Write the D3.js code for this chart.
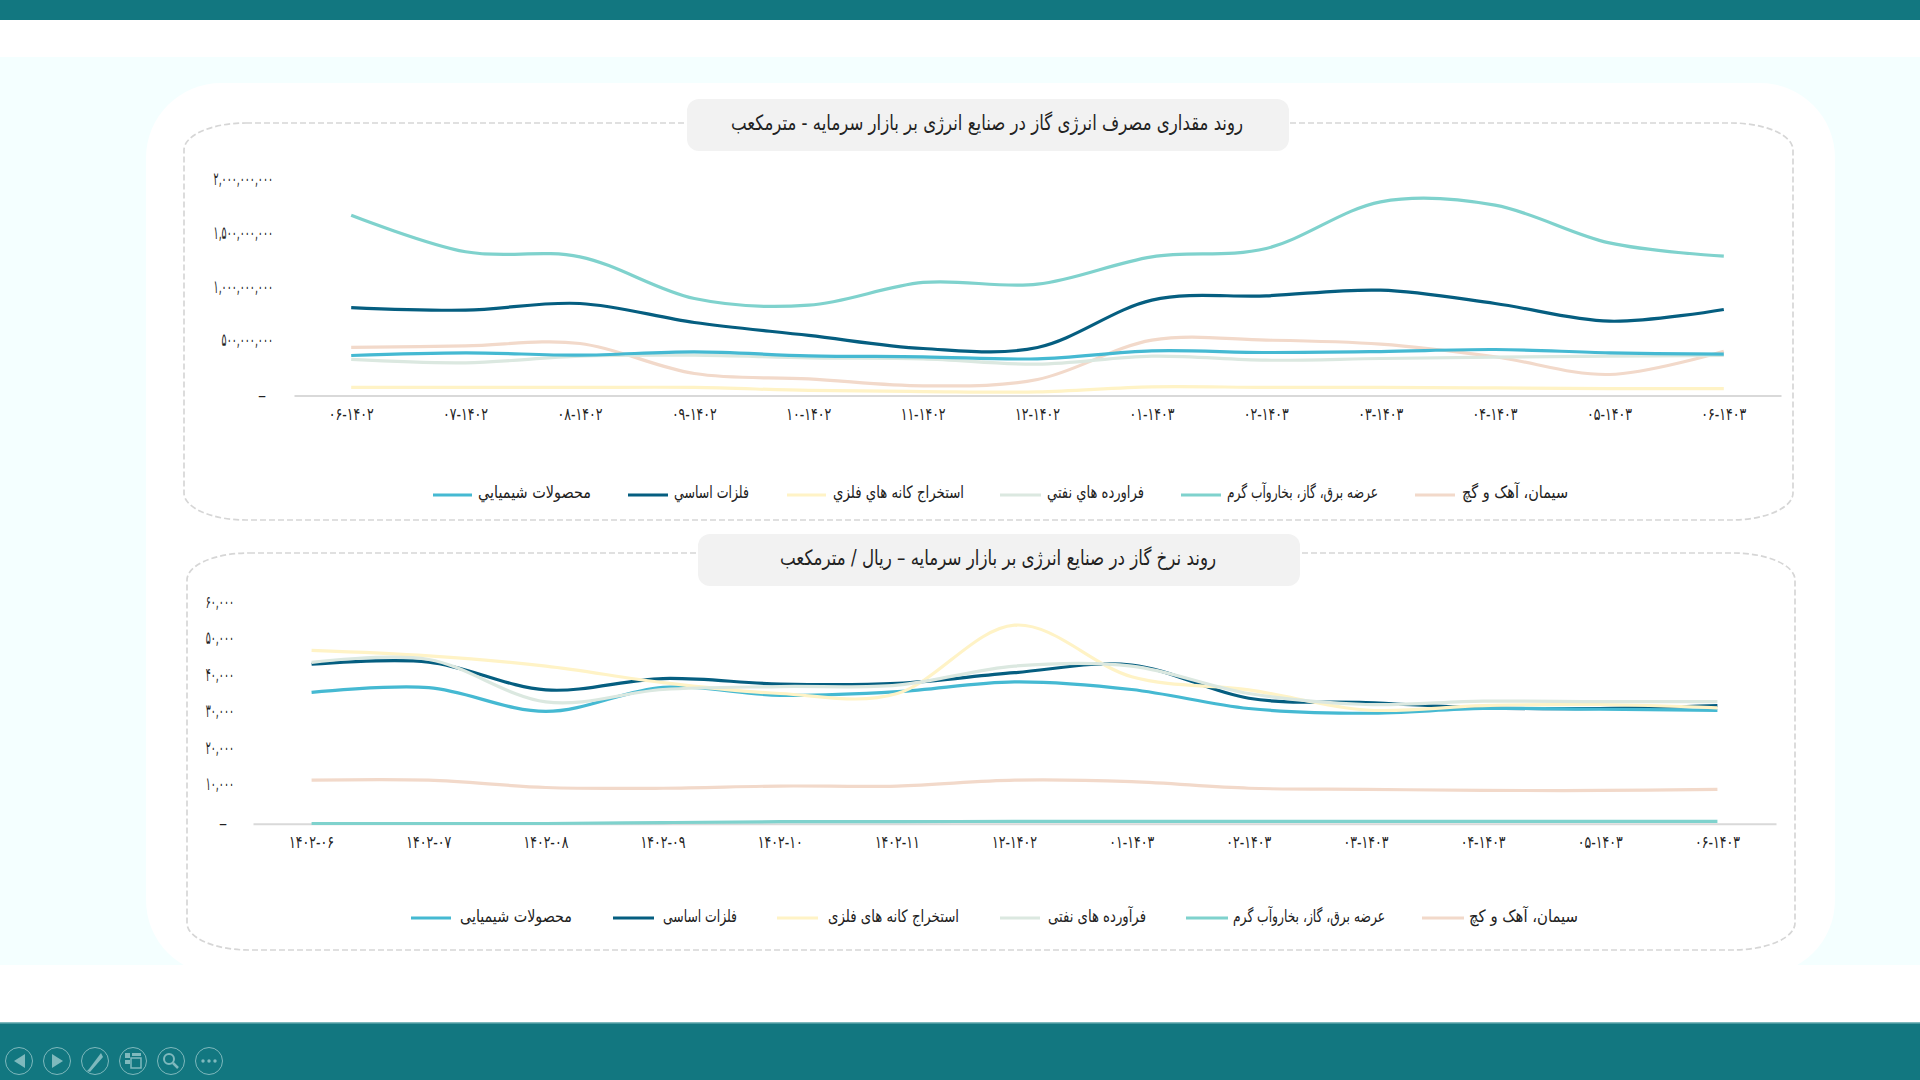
<!DOCTYPE html>
<html lang="fa">
<head>
<meta charset="utf-8">
<title>روند مصرف و نرخ گاز</title>
<script src="https://cdn.jsdelivr.net/npm/d3@7"></script>
<style>
html, body { margin: 0; padding: 0; background: #fff; overflow: hidden; }
svg { display: block; }
text { font-family: "DejaVu Sans Condensed", "DejaVu Sans", sans-serif; fill: #222; }
</style>
</head>
<body>
<svg id="chart" width="1920" height="1080"></svg>
<script>
// شماره ماه ها در دو نمودار کمی فرق دارد، مثل تصویر اصلی
var months1 = ["۰۶-۱۴۰۲", "۰۷-۱۴۰۲", "۰۸-۱۴۰۲", "۰۹-۱۴۰۲", "۱۰-۱۴۰۲", "۱۱-۱۴۰۲", "۱۲-۱۴۰۲", "۰۱-۱۴۰۳", "۰۲-۱۴۰۳", "۰۳-۱۴۰۳", "۰۴-۱۴۰۳", "۰۵-۱۴۰۳", "۰۶-۱۴۰۳"];
var months2 = ["۱۴۰۲-۰۶", "۱۴۰۲-۰۷", "۱۴۰۲-۰۸", "۱۴۰۲-۰۹", "۱۴۰۲-۱۰", "۱۴۰۲-۱۱", "۱۲-۱۴۰۲", "۰۱-۱۴۰۳", "۰۲-۱۴۰۳", "۰۳-۱۴۰۳", "۰۴-۱۴۰۳", "۰۵-۱۴۰۳", "۰۶-۱۴۰۳"];

// million cubic meters
var cement1 = [448, 463, 485, 205, 155, 90, 149, 516, 516, 479, 361, 196, 413];
var power1 = [1681, 1340, 1293, 904, 842, 1054, 1038, 1293, 1371, 1806, 1775, 1423, 1299];
var oil1 = [336, 305, 367, 376, 351, 342, 292, 367, 329, 345, 357, 367, 373];
var mining1 = [75, 75, 75, 75, 47, 37, 34, 81, 75, 75, 71, 65, 65];
var metals1 = [820, 796, 858, 681, 560, 438, 448, 889, 929, 982, 858, 693, 802];
var chem1 = [373, 398, 376, 407, 370, 361, 342, 416, 401, 410, 429, 398, 385];

// rial per cubic meter
var cement2 = [11900, 11900, 9900, 9700, 10300, 10300, 11900, 11500, 9700, 9400, 9100, 9100, 9400];
var power2 = [50, 50, 50, 300, 550, 550, 640, 640, 640, 640, 640, 640, 640];
var oil2 = [44100, 44900, 33300, 36700, 37500, 37900, 43100, 43100, 35600, 32600, 33500, 33400, 33400];
var mining2 = [47400, 45900, 43100, 38600, 35600, 35600, 54300, 40200, 36600, 31100, 32300, 32600, 31700];
var metals2 = [43600, 44200, 36600, 39700, 38200, 38400, 41300, 43400, 34300, 33100, 31700, 31500, 32300];
var chem2 = [35900, 37200, 30700, 37300, 35100, 36100, 38800, 36700, 31500, 30200, 31500, 31300, 31000];

var ticks1 = [0, 500, 1000, 1500, 2000];
var ticks2 = [0, 10000, 20000, 30000, 40000, 50000, 60000];

var title1 = "روند مقداری مصرف انرژی گاز در صنایع انرژی بر بازار سرمایه - مترمکعب";
var title2 = "روند نرخ گاز در صنایع انرژی بر بازار سرمایه – ریال / مترمکعب";

var legendNames1 = ["محصولات شیمیایي", "فلزات اساسي", "استخراج کانه هاي فلزي", "فراورده هاي نفتي", "عرضه برق، گاز، بخاروآب گرم", "سیمان، آهک و گچ"];
var legendNames2 = ["محصولات شیمیایی", "فلزات اساسی", "استخراج کانه های فلزی", "فرآورده های نفتی", "عرضه برق، گاز، بخاروآب گرم", "سیمان، آهک و  کچ"];

var colors = { chem: "#45b9d2", metals: "#055e80", mining: "#fff3c6", oil: "#dbe8e0", power: "#7fd2cd", cement: "#f2d9ca" };

var svg = d3.select("#chart");
var fa = d3.formatLocale({ decimal: ".", thousands: ",", grouping: [3], currency: ["", ""], numerals: ["۰", "۱", "۲", "۳", "۴", "۵", "۶", "۷", "۸", "۹"] });
var faNum = fa.format(",d");

function fit(sel, w) {
    sel.attr("textLength", w).attr("lengthAdjust", "spacingAndGlyphs");
}

// the original font is narrow, squeeze the text by a factor of its own width
function squeeze(sel, k) {
    sel.each(function () {
        var len = this.getComputedTextLength();
        d3.select(this).call(fit, len * k);
    });
}

// page frame
svg.append("rect").attr("width", 1920).attr("height", 1080).attr("fill", "#fff");
svg.append("rect").attr("width", 1920).attr("height", 20).attr("fill", "#127780");
svg.append("rect").attr("y", 57).attr("width", 1920).attr("height", 908).attr("fill", "#f4ffff");
svg.append("clipPath").attr("id", "band").append("rect").attr("y", 57).attr("width", 1920).attr("height", 908);
svg.append("rect").attr("x", 146).attr("y", 83).attr("width", 1689).attr("height", 892)
   .attr("rx", 75).attr("fill", "#fff").attr("clip-path", "url(#band)");
svg.append("rect").attr("y", 1023).attr("width", 1920).attr("height", 57).attr("fill", "#127780");
svg.append("rect").attr("y", 1022).attr("width", 1920).attr("height", 1.5).attr("fill", "#7fb9bd");

function drawChart(c) {
    var g = svg.append("g");

    g.append("rect").attr("x", c.panel[0]).attr("y", c.panel[1])
     .attr("width", c.panel[2] - c.panel[0]).attr("height", c.panel[3] - c.panel[1])
     .attr("rx", 62).attr("ry", 27)
     .attr("fill", "none").attr("stroke", "#d6d6d6").attr("stroke-width", 1.7).attr("stroke-dasharray", "6 3");

    g.append("rect").attr("x", c.box[0]).attr("y", c.box[1])
     .attr("width", c.box[2] - c.box[0]).attr("height", c.box[3] - c.box[1])
     .attr("rx", 12).attr("fill", "#f2f2f2");
    g.append("text").attr("x", c.titleX[0]).attr("y", c.titleY)
     .attr("dy", "0.32em").attr("direction", "rtl").attr("text-anchor", "end")
     .attr("font-size", 21).attr("fill", "#111").text(c.title)
     .call(fit, c.titleX[1] - c.titleX[0]);

    var x = d3.scaleBand().domain(d3.range(c.months.length)).range(c.xRange);
    var y = d3.scaleLinear().domain(c.yDomain).range(c.yRange);

    var xAxis = d3.axisBottom(x).tickSize(0).tickPadding(12).tickFormat(function (i) { return c.months[i]; });
    var xg = g.append("g").attr("transform", "translate(0," + c.yRange[0] + ")").call(xAxis);
    xg.select(".domain").attr("stroke", "#d9d9d9").attr("stroke-width", 2);
    xg.selectAll("text").attr("font-size", 17).attr("fill", "#222").call(squeeze, 0.82);

    var yAxis = d3.axisLeft(y).tickValues(c.ticks).tickSize(0).tickPadding(0)
        .tickFormat(function (d) { return d === 0 ? "–" : faNum(d * c.unit); });
    var yg = g.append("g").attr("transform", "translate(" + c.yLabelX + ",0)").call(yAxis);
    yg.select(".domain").remove();
    yg.selectAll("text").attr("font-size", 18).attr("fill", "#222").attr("direction", "ltr")
      .attr("dx", function (d) { return d === 0 ? -7 : 0; })
      .attr("y", function (d) { return d === 0 ? -1 : c.labelLift; });
    yg.selectAll("text").filter(function (d) { return d !== 0; }).call(squeeze, 0.58);

    var line = d3.line()
        .x(function (d, i) { return x(i) + x.bandwidth() / 2; })
        .y(function (d) { return y(d); })
        .curve(d3.curveCatmullRom.alpha(0));

    c.series.forEach(function (s) {
        g.append("path").datum(s.values)
         .attr("fill", "none").attr("stroke", colors[s.key]).attr("stroke-width", 3.2)
         .attr("d", line);
    });

    c.legend.forEach(function (l) {
        g.append("line").attr("x1", l.sw[0]).attr("x2", l.sw[1])
         .attr("y1", c.legendY).attr("y2", c.legendY)
         .attr("stroke", colors[l.key]).attr("stroke-width", 3.2);
        g.append("text").attr("x", l.tx[0]).attr("y", c.legendY + c.legendLift)
         .attr("dy", "0.32em").attr("direction", "rtl").attr("text-anchor", "end")
         .attr("font-size", 17).attr("fill", "#333").text(l.name)
         .call(fit, l.tx[1] - l.tx[0]);
    });
}

drawChart({
    panel: [184, 123, 1793, 520], box: [687, 99, 1289, 151],
    title: title1, titleX: [731, 1243], titleY: 123,
    months: months1, xRange: [294, 1781], yRange: [395.5, 181], yDomain: [0, 2000],
    ticks: ticks1, unit: 1000000, yLabelX: 273, labelLift: -2,
    series: [
        { key: "cement", values: cement1 }, { key: "power", values: power1 }, { key: "oil", values: oil1 },
        { key: "mining", values: mining1 }, { key: "metals", values: metals1 }, { key: "chem", values: chem1 }
    ],
    legendY: 495, legendLift: -2.5,
    legend: [
        { key: "chem", name: legendNames1[0], sw: [433, 472], tx: [478, 591] },
        { key: "metals", name: legendNames1[1], sw: [628, 668], tx: [674, 749] },
        { key: "mining", name: legendNames1[2], sw: [787, 826], tx: [833, 964] },
        { key: "oil", name: legendNames1[3], sw: [1000, 1041], tx: [1047, 1144] },
        { key: "power", name: legendNames1[4], sw: [1181, 1221], tx: [1227, 1378] },
        { key: "cement", name: legendNames1[5], sw: [1415, 1455], tx: [1462, 1568] }
    ]
});

drawChart({
    panel: [187, 553, 1795, 950], box: [698, 534, 1300, 586],
    title: title2, titleX: [780, 1216], titleY: 558,
    months: months2, xRange: [253, 1776], yRange: [823.7, 604.3], yDomain: [0, 60000],
    ticks: ticks2, unit: 1, yLabelX: 234, labelLift: -3,
    series: [
        { key: "cement", values: cement2 }, { key: "metals", values: metals2 }, { key: "chem", values: chem2 },
        { key: "mining", values: mining2 }, { key: "oil", values: oil2 }, { key: "power", values: power2 }
    ],
    legendY: 918, legendLift: -1,
    legend: [
        { key: "chem", name: legendNames2[0], sw: [411, 451], tx: [460, 572] },
        { key: "metals", name: legendNames2[1], sw: [613, 654], tx: [663, 737] },
        { key: "mining", name: legendNames2[2], sw: [777, 818], tx: [828, 959] },
        { key: "oil", name: legendNames2[3], sw: [1000, 1040], tx: [1048, 1146] },
        { key: "power", name: legendNames2[4], sw: [1186, 1228], tx: [1233, 1385] },
        { key: "cement", name: legendNames2[5], sw: [1422, 1464], tx: [1469, 1578] }
    ]
});

// slide show buttons in the bottom bar
var iconColor = "#7fb9bd";
var icons = [
    "M25,1054 V1068 L14,1061 Z",
    "M52,1054 V1068 L63,1061 Z",
    "M89,1069 L87,1071 L90,1072 L103,1057 L101,1053 Z",
    "M125,1053 H130 V1058 H125 Z M132,1053 H141 V1056 H132 Z M125,1060 H130 V1064 H125 Z",
    "",
    ""
];
[19, 57, 95, 133, 171, 209].forEach(function (cx, i) {
    svg.append("circle").attr("cx", cx).attr("cy", 1061).attr("r", 13.5)
       .attr("fill", "none").attr("stroke", iconColor).attr("stroke-width", 1);
    if (icons[i]) svg.append("path").attr("d", icons[i]).attr("fill", iconColor);
});
svg.append("rect").attr("x", 131).attr("y", 1058).attr("width", 10).attr("height", 10)
   .attr("fill", "none").attr("stroke", iconColor).attr("stroke-width", 1.5);
svg.append("circle").attr("cx", 169).attr("cy", 1059).attr("r", 5)
   .attr("fill", "none").attr("stroke", iconColor).attr("stroke-width", 2);
svg.append("line").attr("x1", 173).attr("y1", 1063).attr("x2", 178).attr("y2", 1068)
   .attr("stroke", iconColor).attr("stroke-width", 2.5);
[203, 209, 215].forEach(function (cx) {
    svg.append("circle").attr("cx", cx).attr("cy", 1061).attr("r", 1.7).attr("fill", iconColor);
});
</script>
</body>
</html>
